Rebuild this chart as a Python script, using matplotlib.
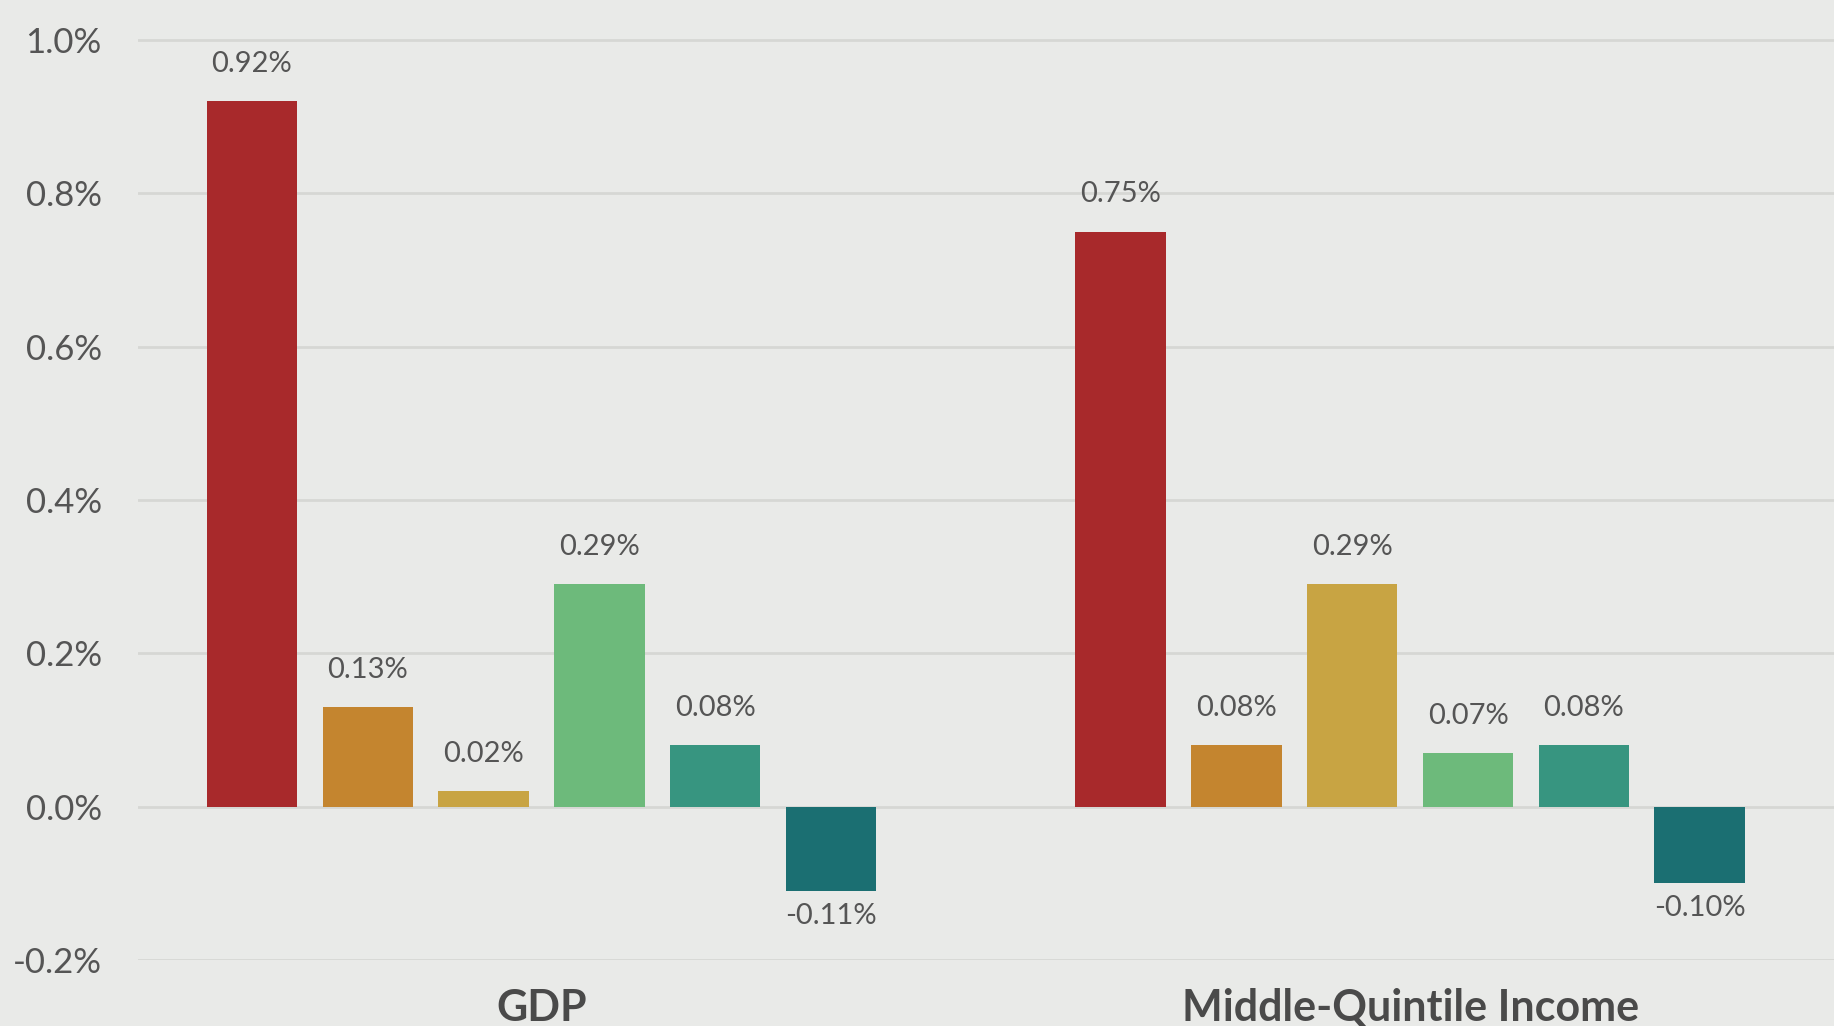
import numpy as np
import matplotlib
matplotlib.use("Agg")
import matplotlib.pyplot as plt

groups = ["GDP", "Middle-Quintile Income"]
gdp = [0.92, 0.13, 0.02, 0.29, 0.08, -0.11]
mqi = [0.75, 0.08, 0.29, 0.07, 0.08, -0.10]
colors = ["#A8292B", "#C4852F", "#C8A443", "#6DBA7B", "#379580", "#1B6F72"]
yticks = [-0.2, 0.0, 0.2, 0.4, 0.6, 0.8, 1.0]

bg = "#E9EAE8"
plt.rcParams["font.family"] = ["Lato", "DejaVu Sans"]

fig = plt.figure(figsize=(18.34, 10.26), dpi=100, facecolor=bg)
ax = fig.add_axes([0.0752, 0.0643, 0.9248, 0.9357], facecolor=bg)

n = len(gdp)
x0 = np.arange(n)
x1 = np.arange(n) + 7.5

for xs, vals in [(x0, gdp), (x1, mqi)]:
    ax.bar(xs, vals, width=0.78, color=colors, zorder=3)
    for x, v in zip(xs, vals):
        if v >= 0:
            ax.annotate(f"{v:.2f}%", (x, v), xytext=(0, 27), textcoords="offset points",
                        ha="center", va="center", fontsize=21, color="#555555")
        else:
            ax.annotate(f"{v:.2f}%", (x, v), xytext=(0, -18), textcoords="offset points",
                        ha="center", va="center", fontsize=21, color="#555555")

ax.set_xlim(-0.985, 13.66)
ax.set_ylim(-0.2, 1.0522)
ax.set_yticks(yticks)
ax.set_yticklabels([f"{t:.1f}%" for t in yticks], fontsize=25, color="#555555")
ax.yaxis.grid(True, color="#D6D7D4", linewidth=2, zorder=0)
ax.tick_params(axis="y", length=0, pad=26)

ax.set_xticks([x0.mean(), x1.mean()])
ax.set_xticklabels(groups, fontsize=31, fontweight="bold", color="#4A4A4A")
ax.tick_params(axis="x", length=0, pad=20)

for s in ax.spines.values():
    s.set_visible(False)

fig.savefig("out.png", dpi=100, facecolor=bg)
